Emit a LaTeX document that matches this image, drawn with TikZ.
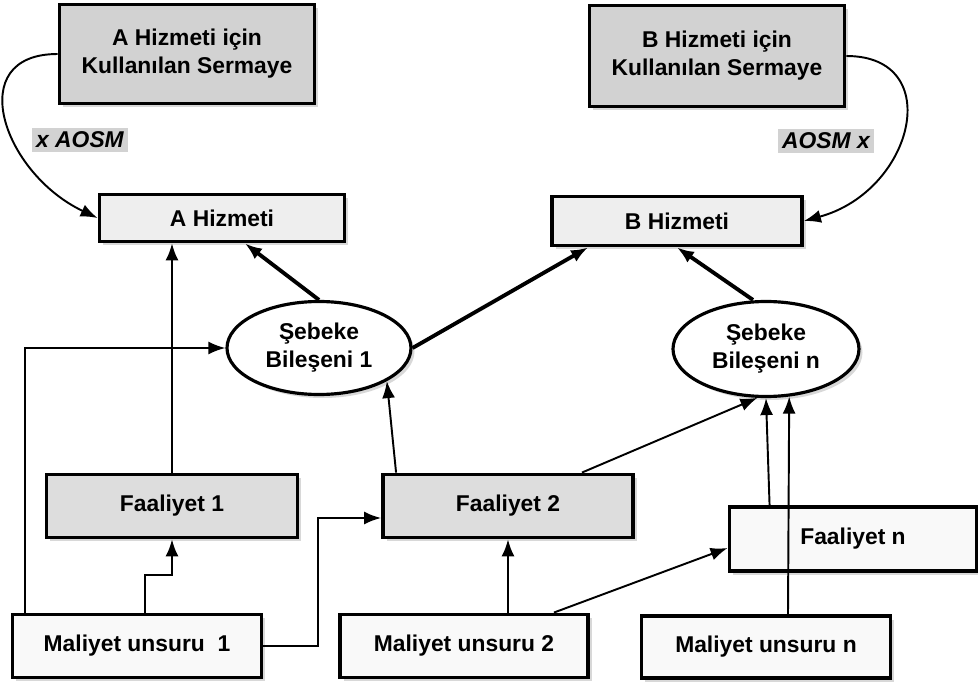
\documentclass[tikz,border=0pt]{standalone}
\usepackage{fontspec}
\setmainfont{Liberation Sans}
\usetikzlibrary{positioning,arrows.meta,shapes.geometric,shadows,calc}

\begin{document}
\begin{tikzpicture}[x=0.02cm,y=-0.02cm,
  font=\fontsize{13}{16}\selectfont\bfseries,
  >={Latex[length=0.34cm,width=0.26cm]},
  dims/.style 2 args={minimum width=#1*0.02cm,minimum height=#2*0.02cm},
  boxbase/.style={draw,line width=2.2pt,align=center,inner sep=2pt,
    drop shadow={shadow xshift=0.07cm,shadow yshift=-0.07cm,fill=gray!60}},
  darkbox/.style={boxbase,fill=gray!35},
  midbox/.style={boxbase,fill=gray!27},
  lightbox/.style={boxbase,fill=gray!13},
  whitebox/.style={boxbase,fill=gray!5},
  netnode/.style={ellipse,draw,line width=1.8pt,fill=white,align=center,
    inner sep=0pt,
    drop shadow={shadow xshift=0.07cm,shadow yshift=-0.07cm,fill=gray!60}},
  tag/.style={fill=gray!35,inner sep=2.5pt,
    font=\fontsize{13}{16}\selectfont\bfseries\itshape},
  link/.style={->,line width=1.1pt},
  heavy/.style={->,line width=2.2pt}]
\useasboundingbox (0,0) rectangle (978,686);
% capital and services
\node[darkbox,dims={255}{99}] (capA) at (187,54) {A Hizmeti için\\Kullanılan Sermaye};
\node[darkbox,dims={255}{101}] (capB) at (717,56) {B Hizmeti için\\Kullanılan Sermaye};
\node[lightbox,dims={245}{47}] (svcA) at (222,218) {A Hizmeti};
\node[lightbox,dims={250}{49}] (svcB) at (677,221) {B Hizmeti};
\node[tag] (lblA) at (80,140) {x AOSM};
\node[tag] (lblB) at (826,141) {AOSM x};
% network components
\node[netnode,dims={184}{93}] (net1) at (319,348) {Şebeke\\Bileşeni 1};
\node[netnode,dims={186}{95}] (netn) at (766,349) {Şebeke\\Bileşeni n};
% activities and cost items
\node[midbox,dims={251}{63}] (act1) at (172,506) {Faaliyet 1};
\node[midbox,dims={250}{63}] (act2) at (508,506) {Faaliyet 2};
\node[whitebox,dims={247}{64}] (actn) at (853,539) {Faaliyet n};
\node[whitebox,dims={249}{63}] (cost1) at (137,646) {Maliyet unsuru\ \ 1};
\node[whitebox,dims={248}{63}] (cost2) at (464,646) {Maliyet unsuru 2};
\node[whitebox,dims={249}{62}] (costn) at (766,647) {Maliyet unsuru n};
% curved capital arrows
\draw[link] (capA.west) .. controls +(-95,0) and +(-95,-45) .. (svcA.west);
\draw[link] (capB.east) .. controls +(100,0) and +(110,-30) .. (svcB.east);
% network to services
\draw[heavy] (net1.north) -- ($(svcA.south)+(23,0)$);
\draw[heavy] (net1.east) -- ($(svcB.south west)+(38,0)$);
\draw[heavy] ($(netn.north)+(-13,0)$) -- (svcB.south);
% activities upwards
\draw[link] (act1.north) -- (act1.north |- svcA.south);
\draw[link] ($(act2.north west)+(15,0)$) -- (net1.-26);
\draw[link] ($(act2.north east)+(-53,0)$) -- (netn.-100);
\draw[link] ($(actn.north west)+(42,0)$) -- (netn.south);
% cost items
\draw[link] ($(costn.north)+(22,0)$) -- (netn.-64);
\draw[link] ($(cost1.north west)+(14,0)$) |- (net1.west);
\draw[link] ($(cost1.north)+(8,0)$) -- ++(0,-38) -| (act1.south);
\draw[link] (cost1.east) -- ++(55,0) |- ($(act2.west)+(0,12)$);
\draw[link] (act2.south |- cost2.north) -- (act2.south);
\draw[link] ($(cost2.north east)+(-36,0)$) -- ($(actn.west)+(0,9)$);
\end{tikzpicture}
\end{document}
